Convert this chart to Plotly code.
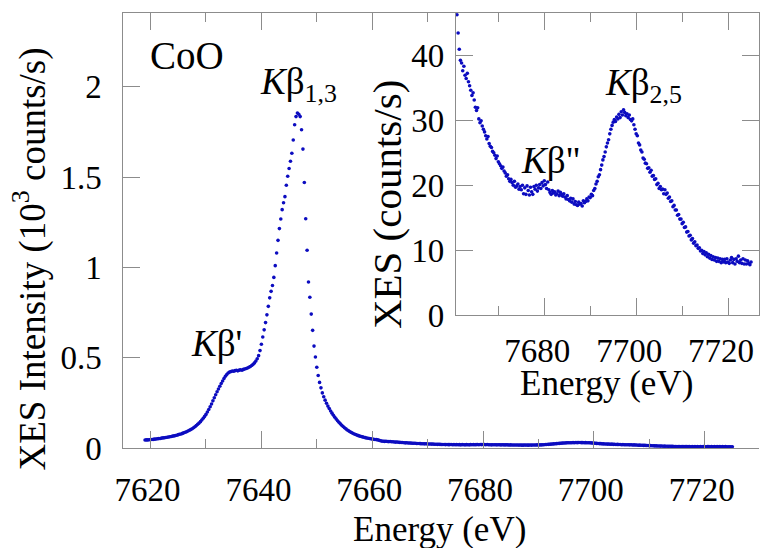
import plotly.graph_objects as go

# Co K-beta emission spectrum of CoO, sampled every 0.25 eV (counts/s)
E_STEP = 0.25
E_START_MAIN = 7619.0
COUNTS_MAIN = [
    45, 46, 46, 47,            # 7619
    48, 48, 49, 50,            # 7620
    51, 52, 53, 54,            # 7621
    56, 57, 58, 59,            # 7622
    61, 62, 63, 65,            # 7623
    67, 68, 70, 72,            # 7624
    75, 77, 79, 82,            # 7625
    85, 88, 91, 95,            # 7626
    99, 103, 108, 113,         # 7627
    119, 125, 132, 139,        # 7628
    147, 156, 166, 176,        # 7629
    187, 200, 214, 229,        # 7630
    245, 262, 279, 296,        # 7631
    312, 328, 343, 358,        # 7632
    372, 386, 398, 408,        # 7633
    416, 421, 424, 427,        # 7634
    426, 429, 431, 428,        # 7635
    432, 434, 431, 436,        # 7636
    438, 441, 444, 448,        # 7637
    452, 458, 464, 472,        # 7638
    482, 495, 512, 540,        # 7639
    575, 615, 655, 695,        # 7640
    738, 785, 832, 868,        # 7641
    900, 945, 1010, 1080,      # 7642
    1150, 1215, 1268, 1320,    # 7643
    1358, 1392, 1455, 1505,    # 7644
    1548, 1588, 1632, 1705,    # 7645
    1790, 1835, 1855, 1848,    # 7646
    1835, 1762, 1655, 1470,    # 7647
    1270, 1095, 920, 835,      # 7648
    742, 652, 565, 505,        # 7649
    448, 402, 364, 334,        # 7650
    306, 285, 266, 249,        # 7651
    233, 219, 206, 194,        # 7652
    182, 171, 161, 152,        # 7653
    143, 135, 127, 120,        # 7654
    113, 107, 101, 96,         # 7655
    91, 87, 83, 79,            # 7656
    75.5, 72.5, 69.5, 67,      # 7657
    64.5, 62.5, 60.5, 58.5,    # 7658
    56.5, 55, 53.5, 52,        # 7659
    50.5, 49.5, 48.5, 47.5,    # 7660
]

E_START_SAT = 7661.0
COUNTS_SAT = [
    46.2, 43.4, 40.9, 39.2,    # 7661
    38.8, 37.6, 38.3, 36.9,    # 7662
    36.4, 37.2, 35.9, 35.3,    # 7663
    34.6, 33.8, 34.2, 33.1,    # 7664
    32.0, 31.5, 31.9, 30.2,    # 7665
    29.6, 29.9, 29.1, 28.6,    # 7666
    28.2, 27.6, 27.1, 27.5,    # 7667
    26.4, 26.0, 25.8, 25.2,    # 7668
    25.0, 24.6, 24.1, 24.5,    # 7669
    23.6, 23.3, 23.0, 22.6,    # 7670
    22.8, 22.2, 21.9, 21.4,    # 7671
    21.6, 21.0, 20.6, 20.9,    # 7672
    20.4, 20.0, 20.6, 19.7,    # 7673
    19.9, 20.2, 19.4, 19.8,    # 7674
    19.3, 20.0, 18.7, 19.6,    # 7675
    18.6, 19.9, 19.2, 18.5,    # 7676
    19.7, 19.0, 18.6, 19.8,    # 7677
    19.4, 20.0, 19.1, 19.6,    # 7678
    20.1, 19.5, 20.4, 19.9,    # 7679
    20.7, 20.1, 19.5, 20.5,    # 7680
    19.3, 18.9, 18.6, 19.2,    # 7681
    18.8, 19.0, 18.5, 18.7,    # 7682
    19.1, 18.4, 18.9, 18.6,    # 7683
    18.3, 18.7, 18.2, 17.9,    # 7684
    18.4, 17.8, 17.6, 18.0,    # 7685
    17.4, 17.9, 17.1, 17.5,    # 7686
    17.0, 16.9, 17.4, 17.1,    # 7687
    17.2, 16.8, 17.6, 17.3,    # 7688
    17.5, 17.9, 17.6, 18.2,    # 7689
    18.1, 18.6, 18.4, 19.2,    # 7690
    19.5, 20.2, 20.6, 21.3,    # 7691
    21.6, 22.4, 23.1, 23.9,    # 7692
    24.4, 25.1, 25.9, 26.5,    # 7693
    27.0, 27.9, 28.6, 29.2,    # 7694
    29.7, 30.1, 29.8, 30.5,    # 7695
    30.2, 30.9, 30.4, 31.3,    # 7696
    30.8, 31.6, 31.2, 30.7,    # 7697
    31.0, 30.4, 30.8, 30.1,    # 7698
    29.9, 30.2, 29.3, 28.6,    # 7699
    27.9, 27.6, 26.5, 26.2,    # 7700
    25.4, 25.1, 24.2, 24.0,    # 7701
    23.4, 23.3, 22.6, 22.7,    # 7702
    22.0, 22.3, 21.4, 21.5,    # 7703
    20.9, 21.0, 20.1, 20.3,    # 7704
    19.5, 19.8, 19.3, 19.4,    # 7705
    18.7, 19.3, 18.6, 18.8,    # 7706
    18.0, 18.2, 17.5, 17.6,    # 7707
    16.7, 16.9, 16.2, 16.2,    # 7708
    15.4, 15.5, 14.8, 14.8,    # 7709
    14.1, 14.3, 13.5, 13.6,    # 7710
    12.8, 12.9, 12.2, 12.3,    # 7711
    11.6, 11.8, 11.1, 11.3,    # 7712
    10.7, 10.8, 10.3, 10.4,    # 7713
    9.9, 10.0, 9.5, 9.8,       # 7714
    9.3, 9.6, 9.0, 9.4,        # 7715
    8.8, 9.2, 8.6, 9.0,        # 7716
    8.5, 8.9, 8.3, 8.8,        # 7717
    8.3, 8.7, 8.1, 8.6,        # 7718
    8.2, 8.6, 8.1, 8.7,        # 7719
    8.2, 8.0, 8.5, 8.9,        # 7720
    8.1, 8.6, 7.9, 8.7,        # 7721
    8.3, 9.1, 8.1, 8.5,        # 7722
    8.0, 8.7, 7.9, 8.5,        # 7723
    7.9, 8.4, 8.0, 7.8,        # 7724
    8.2,                       # 7725
]

MAIN_X_TICKS = [7620, 7640, 7660, 7680, 7700, 7720]
MAIN_Y_TICKS = [0, 0.5, 1, 1.5, 2]
INSET_X_TICKS = [7680, 7700, 7720]
INSET_Y_TICKS = [0, 10, 20, 30, 40]

energy = [E_START_MAIN + E_STEP * i for i in range(len(COUNTS_MAIN))]
energy += [E_START_SAT + E_STEP * i for i in range(len(COUNTS_SAT))]
counts = COUNTS_MAIN + COUNTS_SAT
kcounts = [c / 1000.0 for c in counts]
sat_energy = [e for e in energy if e >= 7660.75]
sat_counts = [c for e, c in zip(energy, counts) if e >= 7660.75]

W, H = 760, 548
FONT = "Liberation Serif"
AXIS_GREY = "#8c8c8c"
DOT_BLUE = "#0c0cc0"


def fx(px):
    return px / W


def fy(px):
    return 1 - px / H


# plot-area boundaries (pixels)
MAIN_L, MAIN_R, MAIN_T, MAIN_B = 116.7, 760, 13.3, 464.3
INS_L, INS_B = 453.3, 326.7

MAIN_XRANGE = [7615.08, 7729.81]
MAIN_YRANGE = [0, 2.409]
INS_XRANGE = [7660.77, 7726.73]
INS_YRANGE = [0, 46.5]
px_per_ev = (MAIN_R - MAIN_L) / (MAIN_XRANGE[1] - MAIN_XRANGE[0])
TOP_XRANGE = [MAIN_XRANGE[0], MAIN_XRANGE[0] + (INS_L - MAIN_L) / px_per_ev]

fig = go.Figure()
fig.add_trace(go.Scatter(
    x=energy, y=kcounts, mode="markers",
    marker=dict(color=DOT_BLUE, size=3.6, line=dict(width=0)),
    xaxis="x", yaxis="y", showlegend=False, hoverinfo="skip",
))
# empty trace that carries the top frame of the main panel
fig.add_trace(go.Scatter(x=[], y=[], xaxis="x3", yaxis="y", showlegend=False))
fig.add_trace(go.Scatter(
    x=sat_energy, y=sat_counts, mode="markers",
    marker=dict(color=DOT_BLUE, size=3.6, line=dict(width=0)),
    xaxis="x2", yaxis="y2", showlegend=False, hoverinfo="skip",
))

tickfont = dict(family=FONT, size=33, color="black")
common = dict(showline=True, linecolor=AXIS_GREY, linewidth=1, ticks="inside",
              tickcolor=AXIS_GREY, tickwidth=1, ticklen=17, showgrid=False,
              zeroline=False, tickfont=tickfont, ticklabeloverflow="allow")
minor10 = dict(dtick=10, ticks="inside", ticklen=9, tickcolor=AXIS_GREY, tickwidth=1,
               showgrid=False)

fig.update_layout(
    width=W, height=H,
    margin=dict(l=0, r=0, t=0, b=0),
    paper_bgcolor="white", plot_bgcolor="rgba(0,0,0,0)",
    xaxis=dict(domain=[fx(MAIN_L), fx(MAIN_R)], range=MAIN_XRANGE, anchor="y",
               tickmode="array", tickvals=MAIN_X_TICKS, minor=minor10,
               ticklabelstandoff=12, ticklabelshift=-3, **common),
    xaxis3=dict(domain=[fx(MAIN_L), fx(INS_L)], range=TOP_XRANGE, anchor="y",
                side="top", tickmode="array", tickvals=MAIN_X_TICKS,
                minor=minor10, showticklabels=False, **common),
    yaxis=dict(domain=[fy(MAIN_B), fy(MAIN_T)], range=MAIN_YRANGE, anchor="x",
               tickmode="array", tickvals=MAIN_Y_TICKS,
               ticklabelstandoff=14, **common),
    xaxis2=dict(domain=[fx(INS_L), 1], range=INS_XRANGE, anchor="y2",
                tickmode="array", tickvals=INSET_X_TICKS, minor=minor10,
                mirror="ticks", ticklabelstandoff=6, ticklabelshift=-7, **common),
    yaxis2=dict(domain=[fy(INS_B), fy(MAIN_T)], range=INS_YRANGE, anchor="x2",
                tickmode="array", tickvals=INSET_Y_TICKS, mirror="ticks",
                ticklabelstandoff=4, **common),
)

xtitle = dict(family=FONT, size=35, color="black")
label = dict(family=FONT, size=37, color="black")
ann = [
    dict(text="Energy (eV)", x=fx(437), y=fy(548), font=xtitle),
    dict(text="XES Intensity (10<sup>3</sup> counts/s)", x=fx(22), y=fy(268),
         textangle=-90, font=dict(family=FONT, size=37, color="black")),
    dict(text="Energy (eV)", x=fx(606), y=fy(397), font=xtitle),
    dict(text="XES (counts/s)", x=fx(383), y=fy(212), textangle=-90,
         font=dict(family=FONT, size=41, color="black")),
    dict(text="CoO", x=fx(181.5), y=fy(58), font=dict(family=FONT, size=39, color="black")),
    dict(text="<i>K</i>β<sub>1,3</sub>", x=fx(253), y=fy(88), xanchor="left", font=label),
    dict(text="<i>K</i>β'", x=fx(183), y=fy(356), xanchor="left", font=label),
    dict(text="<i>K</i>β\"", x=fx(517), y=fy(166), xanchor="left", font=label),
    dict(text="<i>K</i>β<sub>2,5</sub>", x=fx(602), y=fy(89), xanchor="left", font=label),
]
for a in ann:
    a.setdefault("xanchor", "center")
    a.update(xref="paper", yref="paper", yanchor="middle", showarrow=False)
fig.update_layout(annotations=ann)

fig.write_html("out.html")
